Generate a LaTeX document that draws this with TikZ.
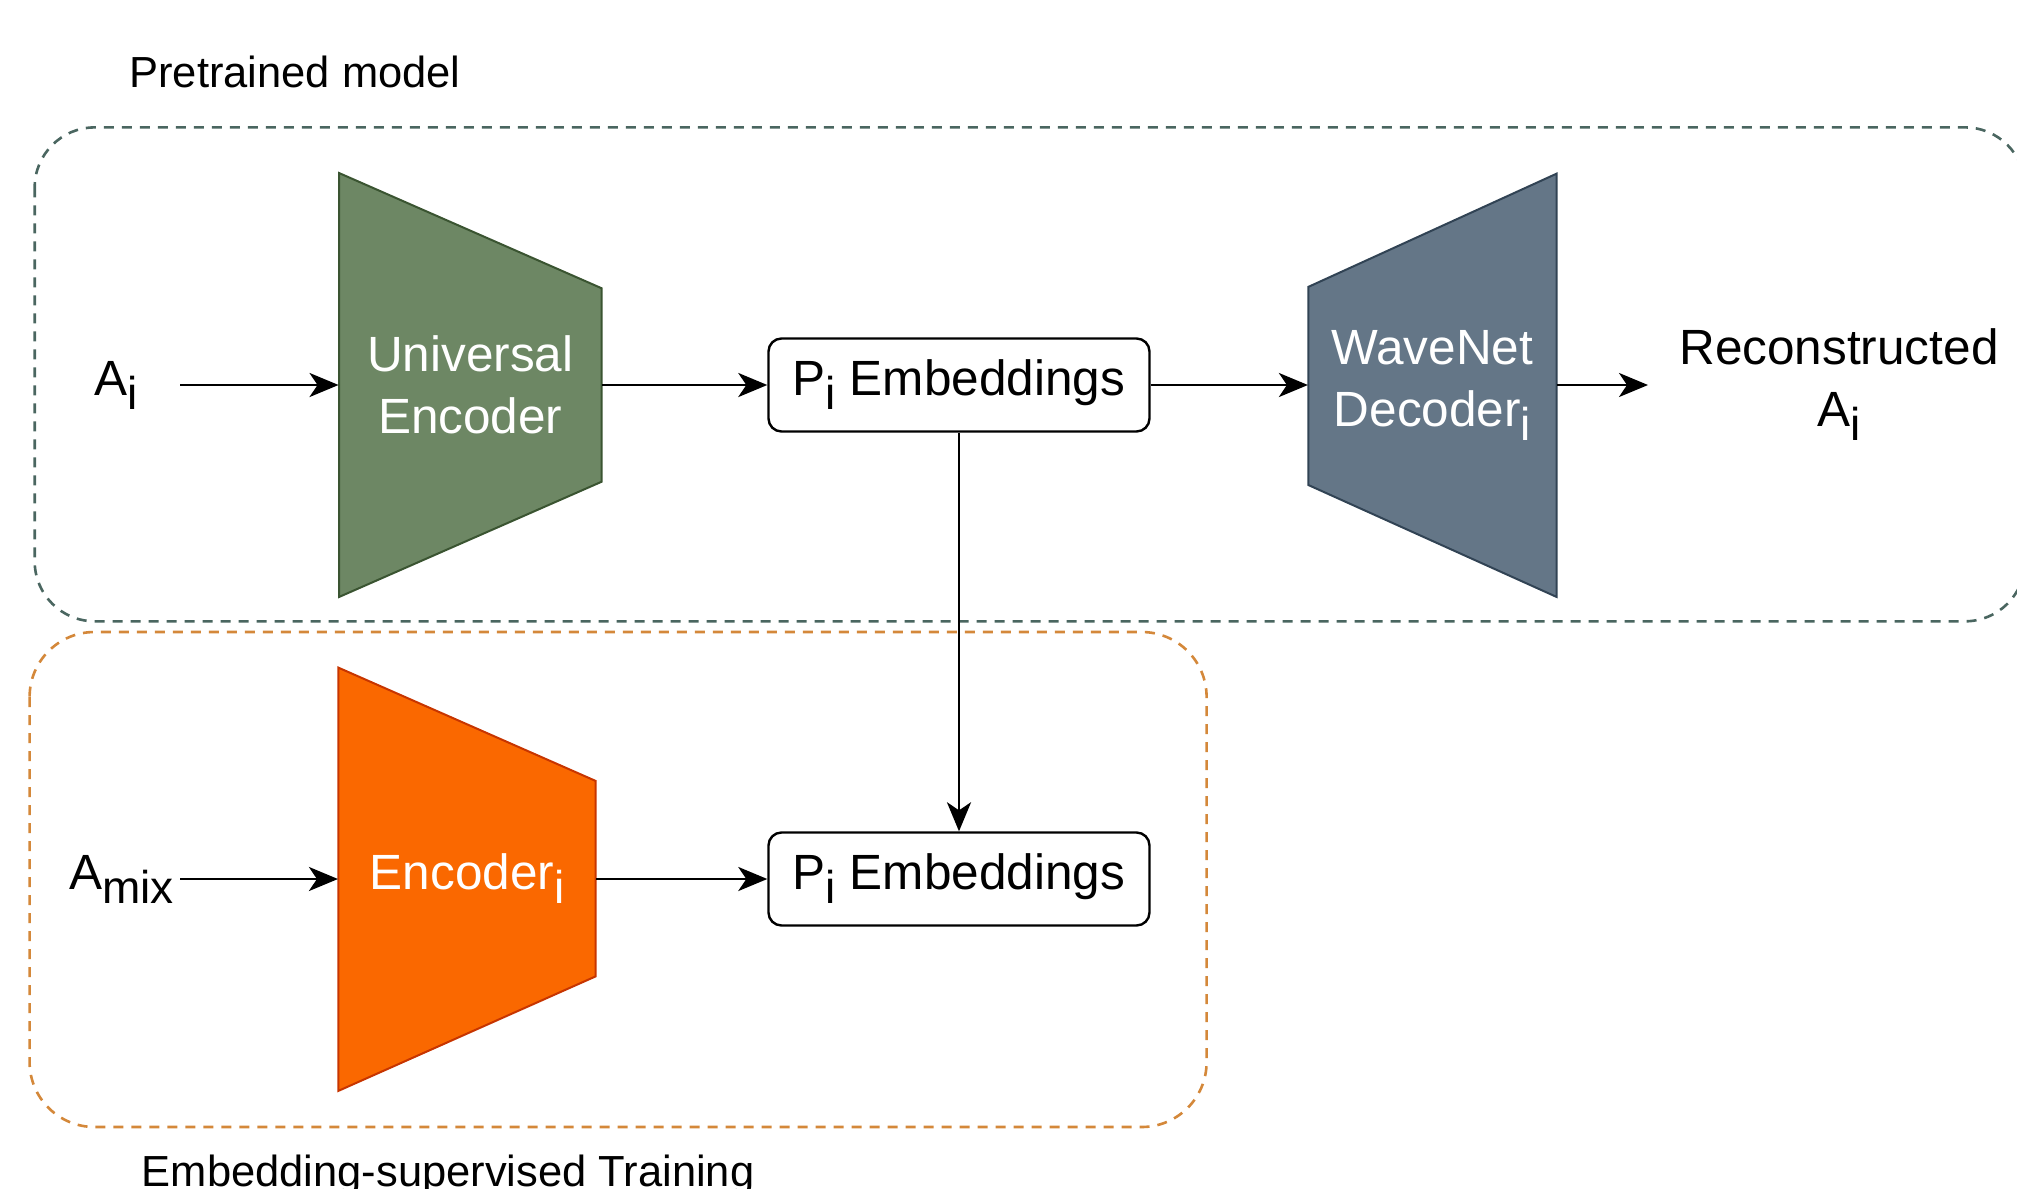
\documentclass[tikz,border=0pt]{standalone}
\usepackage{fontspec}
\setmainfont{Liberation Sans}
\usetikzlibrary{arrows.meta, positioning}

\definecolor{encgreen}{HTML}{6D8764}
\definecolor{encgreenline}{HTML}{3A5431}
\definecolor{decslate}{HTML}{647687}
\definecolor{decslateline}{HTML}{314354}
\definecolor{encorange}{HTML}{FA6800}
\definecolor{encorangeline}{HTML}{C73500}
\definecolor{pretrainline}{HTML}{4A6660}
\definecolor{trainline}{HTML}{D4883A}

\newcommand{\subtxt}[1]{\raisebox{-7pt}{\fontsize{23}{23}\selectfont #1}}

\begin{document}
\begin{tikzpicture}[x=0.5pt, y=-0.5pt,
    every node/.style={font=\fontsize{24.75}{31}\selectfont},
    arr/.style={-{Stealth[length=14.5pt, width=12pt, inset=4pt]}, line width=1.4pt},
    emb/.style={draw, line width=1.2pt, rounded corners=6.5pt, minimum width=190.5pt, minimum height=46.5pt, inner sep=0pt},
    trap/.style={text=white, align=center, inner sep=0pt},
    group/.style={line width=1.3pt, dash pattern=on 5pt off 4pt},
    caption/.style={font=\fontsize{21.75}{26}\selectfont, anchor=base west, inner sep=0pt}]
    \useasboundingbox (0,0) rectangle (2017,1188);
    \clip (0,0) rectangle (2017,1188);

    \draw[group, pretrainline, rounded corners=30pt] (34.7,127.4) rectangle (2025,621.3);
    \draw[group, trainline, rounded corners=32.5pt] (29.6,632) rectangle (1206.6,1127);
    \node[caption] (pretrained) at (129,88) {Pretrained model};
    \node[caption] (embtrain) at (141.5,1186) {Embedding-supervised Training};

    \filldraw[fill=encgreen, draw=encgreenline, line width=1pt] (339,173) -- (601.7,288.3) -- (601.7,481.7) -- (339,597) -- cycle;
    \filldraw[fill=decslate, draw=decslateline, line width=1pt] (1308.3,286.9) -- (1556.5,173.7) -- (1556.5,596.9) -- (1308.3,485) -- cycle;
    \filldraw[fill=encorange, draw=encorangeline, line width=1pt] (338.3,667.6) -- (595.6,780.9) -- (595.6,976.4) -- (338.3,1090.9) -- cycle;

    \node[trap, minimum width=131.35pt, minimum height=212pt] (uenc) at (470.3,385) {Universal\\Encoder};
    \node[trap, minimum width=124.1pt, minimum height=211.6pt] (dec) at (1432.4,385) {WaveNet\\Decoder\subtxt{i}};
    \node[trap, minimum width=128.65pt, minimum height=211.7pt] (enc) at (467,879) {Encoder\subtxt{i}};

    \node[anchor=east, inner xsep=21pt, inner ysep=0pt] (ai) at (180,385) {A\subtxt{i}};
    \node[anchor=east, inner xsep=3pt, inner ysep=0pt] (amix) at (180,879) {A\subtxt{mix}};
    \node[emb] (pe1) at (959,385) {P\subtxt{i} Embeddings};
    \node[emb] (pe2) at (959,879) {P\subtxt{i} Embeddings};
    \node[anchor=west, inner xsep=15.5pt, inner ysep=0pt, align=center] (recon) at (1648,385) {Reconstructed\\A\subtxt{i}};

    \draw[arr] (ai) -- (uenc);
    \draw[arr] (uenc) -- (pe1);
    \draw[arr] (pe1) -- (dec);
    \draw[arr] (dec) -- (recon);
    \draw[arr] (pe1) -- (pe2);
    \draw[arr] (amix) -- (enc);
    \draw[arr] (enc) -- (pe2);
\end{tikzpicture}
\end{document}
